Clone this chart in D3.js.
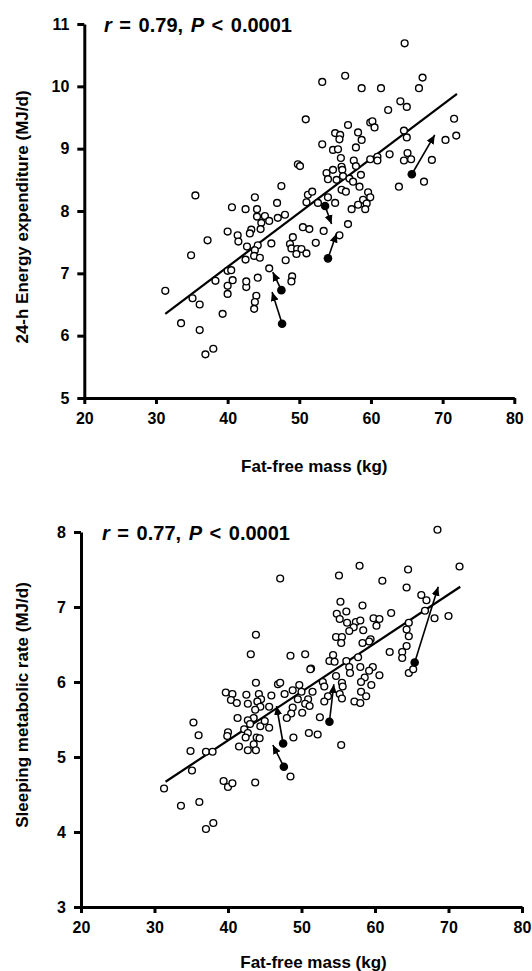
<!DOCTYPE html>
<html><head><meta charset="utf-8">
<script src="https://cdn.jsdelivr.net/npm/d3@7/dist/d3.min.js"></script>
<style>
body{margin:0;background:#fff}
text{font-family:"Liberation Sans",Arial,Helvetica,sans-serif;font-weight:bold;fill:#000}
</style>
</head><body>
<svg id="chart" width="532" height="971"></svg>
<script>
// ---------- data ----------
const xTicks = [20,30,40,50,60,70,80];
const eeTicks = [5,6,7,8,9,10,11];
const smrTicks = [3,4,5,6,7,8];
const xLabel = "Fat-free mass (kg)";
const eeLabel = "24-h Energy expenditure (MJ/d)";
const smrLabel = "Sleeping metabolic rate (MJ/d)";
const eeStat = {r:"0.79", p:"0.0001"};
const smrStat = {r:"0.77", p:"0.0001"};

// 24-h energy expenditure vs FFM (open circles) [FFM, EE]
const eePoints = [
[64.7,10.69],[56.4,10.17],[58.7,9.97],[61.4,9.97],[67.2,10.14],[66.7,9.97],[64.1,9.76],[65.0,9.67],[62.4,9.62],[71.6,9.48],
[71.9,9.21],[70.4,9.14],[56.8,9.38],[59.9,9.42],[60.2,9.44],[60.5,9.34],[58.2,9.26],[58.7,9.14],[57.9,9.02],[55.0,9.25],
[55.7,9.22],[55.6,9.15],[64.6,9.29],[65.0,9.18],[62.6,8.91],[65.1,8.93],[65.6,8.83],[64.6,8.81],[68.5,8.82],[59.9,8.83],
[60.9,8.87],[60.9,8.81],[57.6,8.81],[57.9,8.72],[55.9,8.71],[56.0,8.66],[54.7,8.98],[55.4,8.99],[55.8,8.85],[54.7,8.66],
[55.2,8.50],[56.1,8.56],[57.0,8.52],[57.5,8.47],[58.6,8.58],[58.4,8.39],[55.9,8.34],[56.5,8.31],[59.6,8.30],[59.9,8.22],
[67.4,8.47],[63.9,8.39],[55.0,8.13],[58.9,8.18],[59.4,8.12],[58.2,8.10],[57.3,8.03],[59.2,8.03],[56.8,7.79],[55.6,7.61],
[50.9,9.47],[53.2,9.07],[49.8,8.75],[50.1,8.72],[53.8,8.61],[54.0,8.51],[47.5,8.40],[35.5,8.25],[43.8,8.22],[46.9,8.13],
[51.2,8.26],[51.8,8.31],[51.0,8.14],[52.6,8.13],[54.0,8.22],[40.6,8.06],[42.5,8.03],[44.1,8.03],[44.1,7.91],[45.2,7.92],
[45.8,7.84],[44.7,7.81],[44.6,7.71],[47.0,7.89],[48.0,7.94],[40.0,7.67],[37.2,7.53],[34.9,7.29],[41.4,7.61],[41.5,7.51],
[43.3,7.70],[43.1,7.64],[42.7,7.43],[44.2,7.45],[46.1,7.48],[50.5,7.74],[51.4,7.71],[49.1,7.58],[48.7,7.47],[48.9,7.40],
[49.7,7.39],[50.3,7.39],[51.0,7.32],[49.6,7.31],[52.3,7.49],[53.4,7.68],[43.8,7.37],[43.7,7.28],[44.5,7.25],[42.5,7.22],
[48.1,7.21],[45.8,7.08],[44.2,6.93],[31.3,6.72],[38.3,6.88],[40.0,7.04],[40.5,7.05],[40.0,6.80],[40.0,6.67],[40.7,6.89],
[39.3,6.35],[42.6,6.78],[42.6,6.87],[44.0,6.64],[43.8,6.54],[43.7,6.43],[35.1,6.60],[36.1,6.50],[33.5,6.20],[36.1,6.09],
[36.9,5.70],[38.0,5.79],[49.0,6.95],[48.9,6.87],[53.2,10.07]
];
// filled points with arrows [fromFFM, fromEE, toFFM, toEE]
const eeArrows = [
[53.6,8.08,54.5,7.79],[54.0,7.24,55.2,7.64],[47.5,6.73,46.3,7.02],[47.6,6.19,46.2,6.70],[65.7,8.59,68.9,9.22]
];
const eeFit = [[31.3,6.35],[72.0,9.88]];

// sleeping metabolic rate vs FFM [FFM, SMR]
const smrPoints = [
[57.9,7.55],[55.1,7.42],[64.5,7.50],[71.5,7.54],[61.0,7.35],[64.3,7.26],[66.3,7.16],[67.0,7.09],[55.3,7.07],[58.3,7.02],
[62.2,6.92],[68.1,6.85],[70.0,6.88],[66.8,6.95],[54.8,6.91],[55.2,6.84],[56.1,6.94],[56.2,6.79],[57.4,6.80],[58.0,6.82],
[57.1,6.73],[56.5,6.68],[58.4,6.69],[59.8,6.85],[60.6,6.84],[60.2,6.75],[64.6,6.79],[64.3,6.70],[64.6,6.61],[54.7,6.60],
[55.5,6.60],[55.4,6.52],[59.4,6.57],[59.2,6.54],[58.3,6.52],[64.3,6.48],[63.7,6.40],[63.7,6.32],[62.0,6.40],[54.3,6.36],
[53.8,6.28],[54.5,6.27],[56.1,6.28],[56.5,6.20],[56.6,6.12],[57.7,6.33],[58.0,6.20],[59.7,6.20],[59.2,6.15],[58.6,6.06],
[58.1,6.00],[59.5,5.96],[60.6,6.09],[54.7,6.08],[55.5,5.99],[55.6,5.94],[55.2,5.84],[55.5,5.78],[51.3,6.18],[51.5,5.87],
[52.9,6.00],[53.1,5.94],[58.1,5.87],[58.8,5.81],[57.2,5.74],[58.0,5.72],[53.6,5.81],[53.1,5.74],[64.6,6.12],[65.2,6.17],
[68.5,8.03],[52.5,5.53],[52.2,5.30],[55.4,5.16],
[47.1,7.38],[43.8,6.63],[43.1,6.37],[48.5,6.35],[50.5,6.37],[51.2,6.17],[43.8,5.99],[46.8,5.97],[47.1,5.99],[39.7,5.86],
[40.6,5.84],[40.4,5.76],[41.2,5.72],[42.5,5.83],[44.2,5.84],[44.5,5.77],[44.0,5.74],[44.4,5.67],[42.7,5.71],[45.9,5.82],
[45.6,5.67],[43.7,5.63],[43.5,5.52],[47.7,5.84],[48.8,5.89],[49.7,5.96],[50.0,5.87],[49.5,5.77],[48.8,5.66],[48.6,5.58],
[48.0,5.52],[50.9,5.77],[50.5,5.71],[51.1,5.68],[41.3,5.52],[42.7,5.49],[43.0,5.44],[44.4,5.41],[45.0,5.48],[45.6,5.39],
[35.3,5.46],[36.0,5.29],[40.0,5.33],[39.9,5.28],[42.2,5.37],[42.7,5.32],[42.4,5.26],[43.9,5.26],[44.3,5.25],[43.5,5.17],
[43.8,5.09],[41.5,5.14],[42.7,5.09],[34.9,5.08],[37.0,5.07],[37.9,5.07],[48.9,5.26],[51.0,5.32],[50.1,5.59],[31.3,4.58],
[33.6,4.35],[36.1,4.40],[37.0,4.04],[38.0,4.12],[35.1,4.82],[39.4,4.68],[40.0,4.60],[40.6,4.65],[43.7,4.66],[48.5,4.74]
];
const smrArrows = [
[47.5,5.18,46.6,5.68],[47.6,4.87,46.1,5.16],[53.8,5.47,54.4,5.97],[65.4,6.26,68.6,7.27]
];
const smrFit = [[31.5,4.67],[71.6,7.27]];

// ---------- drawing ----------
const svg = d3.select("#chart");
const defs = svg.append("defs");
defs.append("marker").attr("id","arrow")
  .attr("viewBox","0 0 10 10").attr("refX",10).attr("refY",5)
  .attr("markerWidth",9).attr("markerHeight",9).attr("markerUnits","userSpaceOnUse")
  .attr("orient","auto")
  .append("path").attr("d","M0,0.5 L10,5 L0,9.5 Z").attr("fill","#000");

function panel(cfg){
  const g = svg.append("g");
  const x = d3.scaleLinear().domain([20,80]).range([cfg.x0,cfg.x1]);
  const y = d3.scaleLinear().domain(cfg.yDomain).range([cfg.y0,cfg.y1]);

  const xa = g.append("g").attr("transform",`translate(0,${cfg.y0})`)
    .call(d3.axisBottom(x).tickValues(xTicks).tickFormat(d3.format("d"))
      .tickSize(6).tickSizeOuter(0).tickPadding(9));
  const ya = g.append("g").attr("transform",`translate(${cfg.x0},0)`)
    .call(d3.axisLeft(y).tickValues(cfg.yTicks).tickFormat(d3.format("d"))
      .tickSize(7).tickSizeOuter(0).tickPadding(8));
  [xa,ya].forEach(a=>{
    a.select(".domain").attr("stroke","#000").attr("stroke-width",3);
    a.selectAll(".tick line").attr("stroke","#000").attr("stroke-width",3);
    a.selectAll(".tick text").style("font-size","16px").style("font-weight","bold")
      .style("font-family","'Liberation Sans',Arial,sans-serif").attr("fill","#000");
  });

  // regression line
  g.append("line")
    .attr("x1",x(cfg.fit[0][0])).attr("y1",y(cfg.fit[0][1]))
    .attr("x2",x(cfg.fit[1][0])).attr("y2",y(cfg.fit[1][1]))
    .attr("stroke","#000").attr("stroke-width",2.2);

  // open circles
  g.selectAll("circle.o").data(cfg.points).join("circle").attr("class","o")
    .attr("cx",d=>x(d[0])).attr("cy",d=>y(d[1])).attr("r",3.4)
    .attr("fill","#fff").attr("stroke","#000").attr("stroke-width",1.4);

  // arrows from filled points
  g.selectAll("line.a").data(cfg.arrows).join("line").attr("class","a")
    .attr("x1",d=>x(d[0])).attr("y1",d=>y(d[1]))
    .attr("x2",d=>x(d[2])).attr("y2",d=>y(d[3]))
    .attr("stroke","#000").attr("stroke-width",1.6).attr("marker-end","url(#arrow)");
  g.selectAll("circle.f").data(cfg.arrows).join("circle").attr("class","f")
    .attr("cx",d=>x(d[0])).attr("cy",d=>y(d[1])).attr("r",4.3).attr("fill","#000");

  // stat text
  const t = g.append("text").attr("x",cfg.statX).attr("y",cfg.statY)
    .style("font-size","20px").style("word-spacing","2px");
  t.append("tspan").style("font-style","italic").text("r");
  t.append("tspan").text(` = ${cfg.stat.r}, `);
  t.append("tspan").style("font-style","italic").text("P");
  t.append("tspan").text(` < ${cfg.stat.p}`);

  // axis titles
  g.append("text").attr("x",(cfg.x0+cfg.x1)/2 + cfg.xTitleDx).attr("y",cfg.xTitleY)
    .attr("text-anchor","middle").style("font-size","17px").text(xLabel);
  g.append("text").attr("transform",`translate(${cfg.yTitleX},${cfg.yTitleCy}) rotate(-90)`)
    .attr("text-anchor","middle").style("font-size","17px").text(cfg.yLabel);
}

panel({x0:84.3,x1:514.3,y0:398,y1:24,yDomain:[5,11],yTicks:eeTicks,points:eePoints,arrows:eeArrows,fit:eeFit,
  stat:eeStat,statX:104,statY:32,xTitleY:472,xTitleDx:15,yTitleX:28,yTitleCy:217,yLabel:eeLabel});
panel({x0:81,x1:522,y0:907,y1:532,yDomain:[3,8],yTicks:smrTicks,points:smrPoints,arrows:smrArrows,fit:smrFit,
  stat:smrStat,statX:102,statY:540,xTitleY:968,xTitleDx:12,yTitleX:28,yTitleCy:705,yLabel:smrLabel});
</script>
</body></html>
